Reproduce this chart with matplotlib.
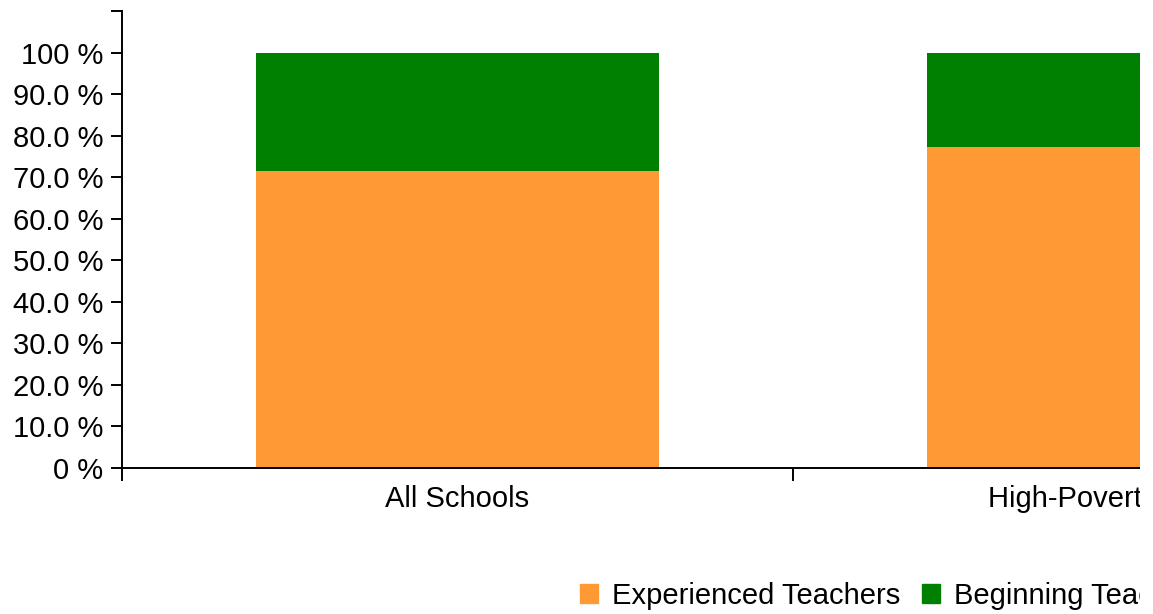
import matplotlib
matplotlib.use('Agg')
import matplotlib.pyplot as plt
from matplotlib.patches import Rectangle, Patch

# data
categories = ['All Schools', 'High-Poverty Schools']
experienced = [71.6, 77.2]
beginning = [28.4, 22.8]
tick_values = [0, 10, 20, 30, 40, 50, 60, 70, 80, 90, 100]
tick_labels = ['0 %', '10.0 %', '20.0 %', '30.0 %', '40.0 %', '50.0 %',
               '60.0 %', '70.0 %', '80.0 %', '90.0 %', '100 %']

plt.rcParams['font.family'] = ['Liberation Sans', 'DejaVu Sans']
fs = 21
W, H = 1153, 614

fig = plt.figure(figsize=(W / 100, H / 100), dpi=100, facecolor='white')
# axes run past the right edge of the picture (the chart is cut off there)
ax = fig.add_axes([122 / W, (H - 468) / H, 1342 / W, (468 - 11) / H])

pos = [i + 0.5 for i in range(len(categories))]
ax.bar(pos, experienced, width=0.6, color='#ff9933', label='Experienced Teachers')
ax.bar(pos, beginning, width=0.6, bottom=experienced, color='#008000',
       label='Beginning Teachers')

ax.set_xlim(0, len(categories))
ax.set_ylim(0, 110)
for s in ['top', 'right']:
    ax.spines[s].set_visible(False)
for s in ['left', 'bottom']:
    ax.spines[s].set_linewidth(1.4)

ax.set_yticks(tick_values + [110])
ax.set_yticklabels(tick_labels + [''])
ax.tick_params(axis='y', length=8, width=1.4, pad=5.5, labelsize=fs)

ax.set_xticks(range(len(categories) + 1))
ax.set_xticklabels([''] * (len(categories) + 1))
ax.set_xticks(pos, minor=True)
ax.set_xticklabels(categories, minor=True)
ax.tick_params(axis='x', which='major', length=9, width=1.4)
ax.tick_params(axis='x', which='minor', length=0, pad=12, labelsize=fs)

handles = [Patch(color='#ff9933', label='Experienced Teachers'),
           Patch(color='#008000', label='Beginning Teachers')]
fig.legend(handles=handles, loc='center left', bbox_to_anchor=(580 / W, 1 - 596 / H),
           ncol=2, frameon=False, fontsize=fs, handlelength=0.62, handleheight=0.62,
           handletextpad=0.48, columnspacing=0.75, borderpad=0, borderaxespad=0)

# white strip at right edge where the original picture is clipped
fig.patches.append(Rectangle((1140 / W, 0), 1, 1, transform=fig.transFigure,
                             facecolor='white', edgecolor='none', zorder=100))

plt.savefig('out.png', dpi=100, facecolor='white')
